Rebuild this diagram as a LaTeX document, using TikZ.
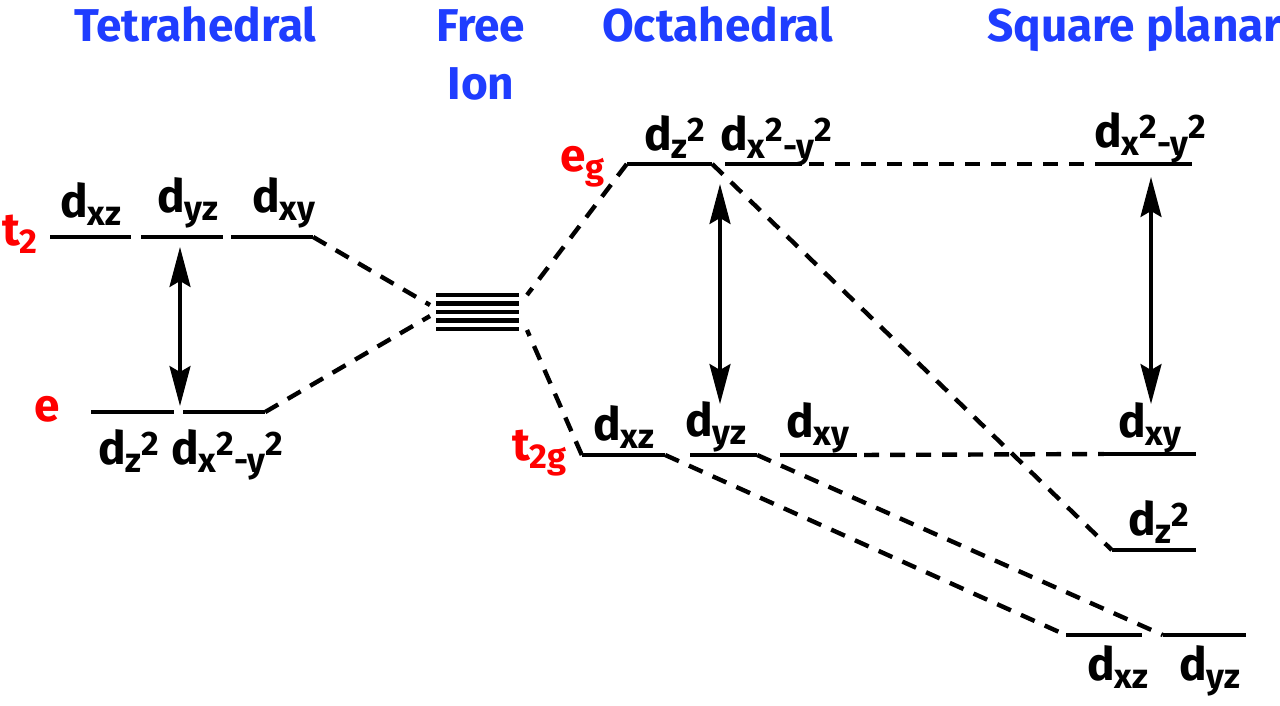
\documentclass[tikz,border=0pt]{standalone}
\usepackage{fontspec}
\setmainfont{Fira Sans}
\usetikzlibrary{arrows.meta}

\newcommand{\lowtxt}[1]{\raisebox{-8pt}{\fontsize{34.5}{34.5}\selectfont #1}}
\newcommand{\hightxt}[1]{\raisebox{9pt}{\fontsize{34}{34}\selectfont #1}}

\tikzset{
  level/.style={fill=black,inner sep=0pt,minimum height=4.4pt},
  ionlevel/.style={level,minimum height=4.8pt,minimum width=83pt},
  corr/.style={line width=4.4pt,dash pattern=on 15pt off 11pt},
  corrh/.style={corr,dash phase=19pt},
  gap/.style={line width=3.2pt,{Stealth[length=40pt,width=21pt,inset=6pt]}-{Stealth[length=40pt,width=21pt,inset=6pt]}},
  orb/.style={anchor=base west,inner sep=0pt,font=\fontsize{46}{46}\selectfont\bfseries},
  sym/.style={orb,text=red},
  head/.style={anchor=base west,inner sep=0pt,text=headblue,font=\fontsize{46}{46}\selectfont\bfseries}
}
\definecolor{headblue}{HTML}{1F3DFF}

\begin{document}
\begin{tikzpicture}[x=1pt,y=-1pt]

\useasboundingbox (0,0) rectangle (1280,705);

% headings
\node [head] at (74,41) (hTet) {Tetrahedral};
\node [head,anchor=base] at (481,41) (hFree) {Free};
\node [head,anchor=base] at (481,99) (hIon) {Ion};
\node [head] at (602,41) (hOct) {Octahedral};
\node [head] at (987,41) (hSq) {Square planar};

% tetrahedral levels
\node [level,minimum width=81pt] at (90.5,237) (tXZ) {};
\node [level,minimum width=82pt] at (182,237) (tYZ) {};
\node [level,minimum width=82pt] at (272,237) (tXY) {};
\node [level,minimum width=83pt] at (132.5,412) (eZ) {};
\node [level,minimum width=82pt] at (224,412) (eX) {};

% free ion
\node [ionlevel] at (477,295) (f1) {};
\node [ionlevel] at (477,303.5) (f2) {};
\node [ionlevel] at (477,312) (f3) {};
\node [ionlevel] at (477,320.5) (f4) {};
\node [ionlevel] at (477,329) (f5) {};
\coordinate (fTL) at (430,305);
\coordinate (fBL) at (430,316);
\coordinate (fTR) at (527,295);
\coordinate (fBR) at (527,330);

% octahedral levels
\node [level,minimum width=85pt] at (669.5,164) (oZ) {};
\node [level,minimum width=77pt] at (763.5,164) (oX) {};
\node [level,minimum width=83pt] at (623.5,455) (oXZ) {};
\node [level,minimum width=67pt] at (723.5,455) (oYZ) {};
\node [level,minimum width=77pt] at (818.5,455) (oXY) {};

% square planar levels
\node [level,minimum width=92pt] at (1146,164) (sX) {};
\node [level,minimum width=92pt] at (1150,454) (sXY) {};
\node [level,minimum width=84pt] at (1154,550) (sZ) {};
\node [level,minimum width=76pt] at (1104,635) (sXZ) {};
\node [level,minimum width=83pt] at (1204.5,635) (sYZ) {};

% correlation lines
\draw [corr] (tXY.east) -- (fTL);
\draw [corr] (eX.east) -- (fBL);
\draw [corr] (oZ.west) -- (fTR);
\draw [corr] (oXZ.west) -- (fBR);
\draw [corrh] (oX.east) -- (sX.west);
\draw [corrh] (oXY.east) -- (sXY.west);
\draw [corr] (oZ.east) -- (sZ.west);
\draw [corr] (oXZ.east) -- (sXZ.west);
\draw [corr] (oYZ.east) -- (sYZ.west);

% splittings
\coordinate (tTop) at (180,247);
\coordinate (tBot) at (180,406);
\coordinate (oTop) at (720,184);
\coordinate (oBot) at (720,404);
\coordinate (sTop) at (1151,177);
\coordinate (sBot) at (1151,404);
\draw [gap] (tTop) -- (tBot);
\draw [gap] (oTop) -- (oBot);
\draw [gap] (sTop) -- (sBot);

% symmetry labels
\node [sym] at (2,245) (lT) {t\lowtxt{2}};
\node [sym] at (34,421) (lE) {e};
\node [sym] at (560,171) (lEg) {e\lowtxt{g}};
\node [sym] at (512,460) (lTg) {t\lowtxt{2g}};

% orbital labels
\node [orb] at (60,217) (tXZl) {d\lowtxt{xz}};
\node [orb] at (157,212) (tYZl) {d\lowtxt{yz}};
\node [orb] at (252,212) (tXYl) {d\lowtxt{xy}};
\node [orb] at (98,464) (eZl) {d\lowtxt{z}\hightxt{2}};
\node [orb] at (171,464) (eXl) {d\lowtxt{x}\hightxt{2}\lowtxt{-y}\hightxt{2}};

\node [orb] at (644,150) (oZl) {d\lowtxt{z}\hightxt{2}};
\node [orb] at (720,150) (oXl) {d\lowtxt{x}\hightxt{2}\lowtxt{-y}\hightxt{2}};
\node [orb] at (593,440) (oXZl) {d\lowtxt{xz}};
\node [orb] at (685,436) (oYZl) {d\lowtxt{yz}};
\node [orb] at (786,437) (oXYl) {d\lowtxt{xy}};

\node [orb] at (1094,147) (sXl) {d\lowtxt{x}\hightxt{2}\lowtxt{-y}\hightxt{2}};
\node [orb] at (1118,437) (sXYl) {d\lowtxt{xy}};
\node [orb] at (1128,535) (sZl) {d\lowtxt{z}\hightxt{2}};
\node [orb] at (1087,680) (sXZl) {d\lowtxt{xz}};
\node [orb] at (1179,680) (sYZl) {d\lowtxt{yz}};

\end{tikzpicture}
\end{document}
